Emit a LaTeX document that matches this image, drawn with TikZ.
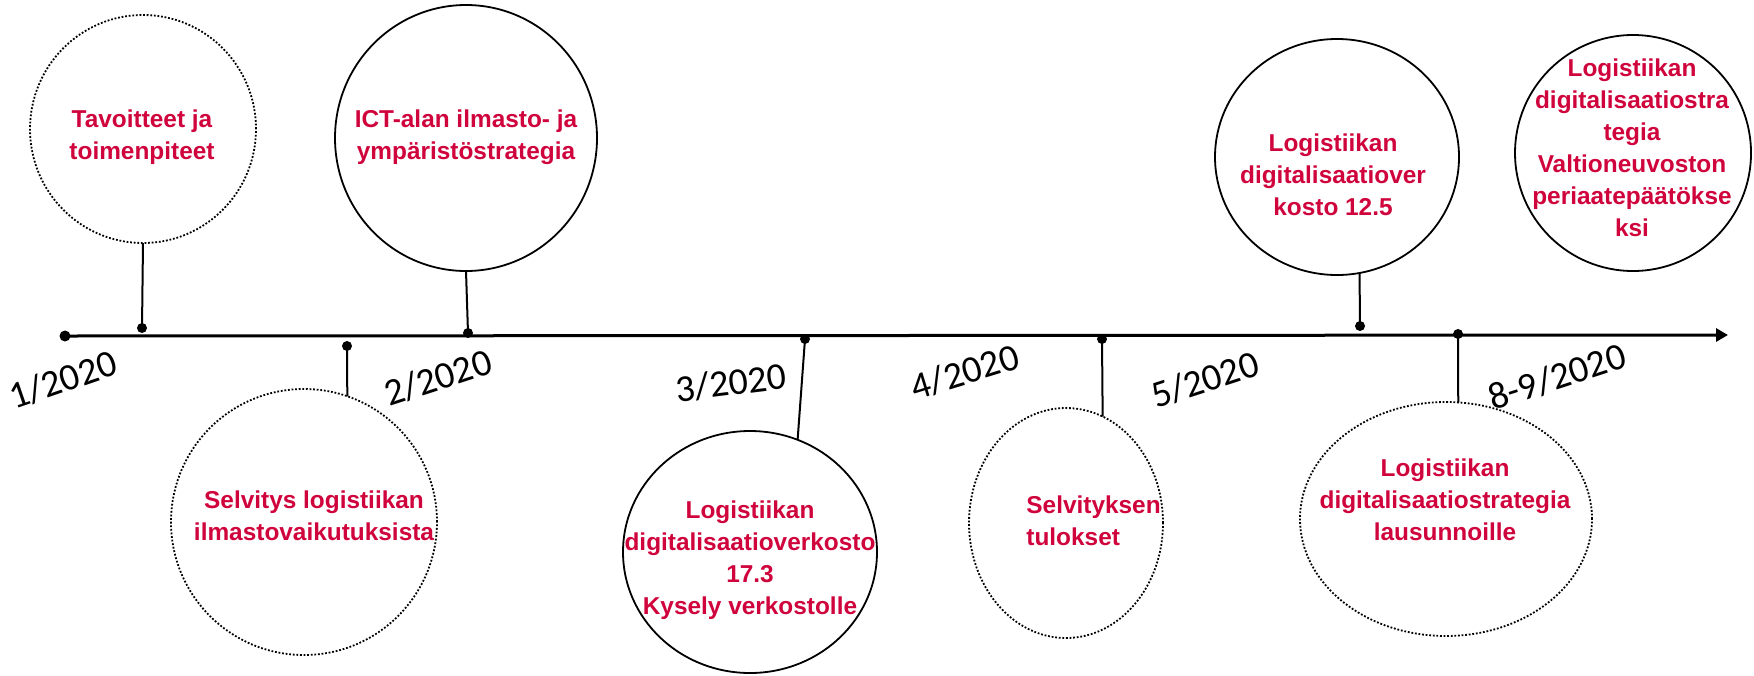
\documentclass[tikz,border=0pt]{standalone}
\usepackage{fontspec}
\setmainfont{Liberation Sans}
\newfontfamily\datefont{Carlito}
\usetikzlibrary{shapes.geometric,arrows.meta}
\definecolor{eventred}{RGB}{208,4,60}

\begin{document}
\begin{tikzpicture}[x=0.5pt, y=-0.5pt,
    event/.style={ellipse, draw, line width=0.9pt, inner sep=0pt, outer sep=0pt},
    planned/.style={event, dash pattern=on 0.9pt off 0.9pt},
    evtext/.style={text=eventred, font=\fontsize{12.2}{16}\selectfont\bfseries, align=center, inner sep=0pt},
    datelbl/.style={font=\datefont\fontsize{19}{21}\selectfont, inner sep=0pt},
    stem/.style={line width=1pt},
    dot/.style={circle, fill, inner sep=0pt, minimum size=5pt}]
    \useasboundingbox (0,0) rectangle (1754,675);

    % Time axis
    \node[dot, minimum size=5.5pt] (t0) at (65,336) {};
    \coordinate (tend) at (1728,335);
    \draw[line width=1.5pt, -{Triangle[length=6pt, width=6.5pt]}] (t0.center) -- (tend);

    % Dots on the axis
    \node[dot] (d1) at (142,328) {};
    \node[dot] (d2) at (468,333) {};
    \node[dot] (d3) at (347,346) {};
    \node[dot] (d4) at (805,339) {};
    \node[dot] (d5) at (1102,339) {};
    \node[dot] (d6) at (1360,326) {};
    \node[dot] (d8) at (1458,334) {};

    % Events above the axis
    \node[planned, minimum width=113pt, minimum height=114pt] (tav) at (143,129) {};
    \node[evtext] (tavT) at (142,137) {Tavoitteet ja\\toimenpiteet};
    \node[event, minimum width=131pt, minimum height=133pt] (ict) at (466,138) {};
    \node[evtext] (ictT) at (466,137) {ICT-alan ilmasto- ja\\ympäristöstrategia};
    \node[event, minimum width=122pt, minimum height=118pt] (kos) at (1337,157) {};
    \node[evtext] (kosT) at (1333,175) {Logistiikan\\digitalisaatiover\\kosto 12.5};
    \node[event, minimum width=118pt, minimum height=118pt] (val) at (1633,153) {};
    \node[evtext] (valT) at (1632,148) {Logistiikan\\digitalisaatiostra\\tegia\\Valtioneuvoston\\periaatepäätökse\\ksi};

    % Events below the axis
    \node[planned, minimum width=133pt, minimum height=133pt] (sel) at (304,522) {};
    \node[evtext] (selT) at (314,516) {Selvitys logistiikan\\ilmastovaikutuksista};
    \node[event, minimum width=127pt, minimum height=121pt] (dig) at (750,552) {};
    \node[evtext] (digT) at (750,560) {Logistiikan\\digitalisaatioverkosto\\17.3\\Kysely verkostolle};
    \node[planned, minimum width=97pt, minimum height=115pt] (tul) at (1066,523) {};
    \node[evtext, align=left, anchor=west] (tulT) at (1026,521) {Selvityksen\\tulokset};
    \node[planned, minimum width=146pt, minimum height=117pt] (lau) at (1446,519) {};
    \node[evtext] (lauT) at (1445,500) {Logistiikan\\digitalisaatiostrategia\\lausunnoille};

    % Stems
    \draw[stem] (tav.south) -- (d1.center);
    \draw[stem] (ict.south) -- (d2.center);
    \draw[stem] (sel.71) -- (d3.center);
    \draw[stem] (dig.67) -- (d4.center);
    \draw[stem] (tul.71) -- (d5.center);
    \draw[stem] (kos.281) -- (d6.center);
    \draw[stem] (lau.84) -- (d8.center);

    % Dates
    \node[datelbl, rotate=19] (m1) at (63,380) {1/2020};
    \node[datelbl, rotate=18] (m2) at (438,378) {2/2020};
    \node[datelbl, rotate=7] (m3) at (731,383) {3/2020};
    \node[datelbl, rotate=17] (m4) at (965,372) {4/2020};
    \node[datelbl, rotate=18] (m5) at (1205,380) {5/2020};
    \node[datelbl, rotate=18] (m8) at (1557,377) {8-9/2020};
\end{tikzpicture}
\end{document}
